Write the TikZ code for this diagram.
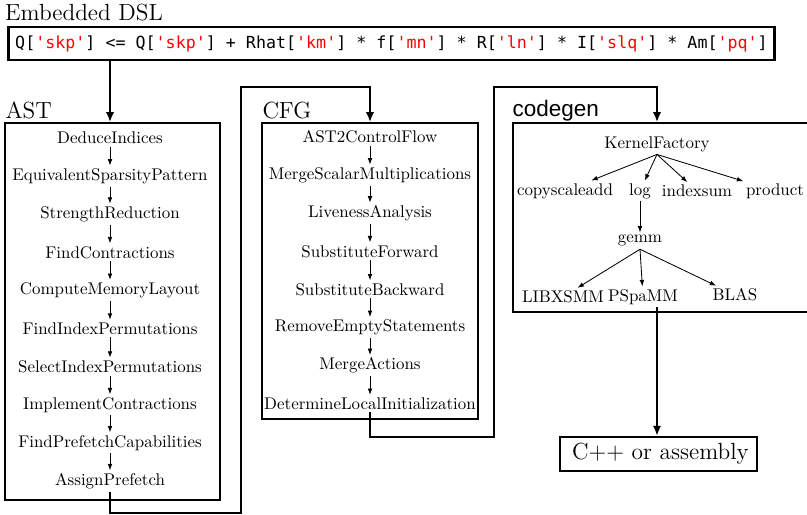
\documentclass[tikz,border=0pt]{standalone}
\usepackage{fontspec}
\setmonofont{DejaVu Sans Mono}
\newfontfamily\cgfont{Liberation Sans}
\usepackage{tikz}
\usetikzlibrary{positioning, fit, calc, arrows.meta}
\newcommand{\dslstr}[1]{\textcolor{red}{#1}}
\tikzstyle{dslbox} = [rectangle, draw=black, line width=1.6pt, minimum width=460pt, minimum height=19.8pt, inner sep=0pt, text centered, font=\ttfamily]
\tikzstyle{frame} = [rectangle, draw=black, line width=1pt, inner sep=0pt]
\tikzstyle{title} = [anchor=base west, inner sep=0pt, font=\fontsize{14}{17}\selectfont]
\tikzstyle{pass} = [rectangle, inner sep=1.5pt, text centered, font=\fontsize{10.15}{12}\selectfont]
\tikzstyle{outbox} = [rectangle, draw=black, line width=1.4pt, minimum width=118pt, minimum height=20.4pt, text centered, font=\fontsize{14}{17}\selectfont]
\tikzstyle{arrow} = [-{Latex[length=3.8pt, width=2.8pt]}, line width=0.5pt]
\tikzstyle{flow} = [-{Latex[length=6pt, width=5pt]}, line width=1.2pt]

\begin{document}
\begin{tikzpicture}[x=0.6pt, y=-0.6pt, node distance=22.86pt]
  \useasboundingbox (0,0) rectangle (807,515);

  % DSL
  \node (dsl) [dslbox] at (391.5,43.5) {Q[\dslstr{'skp'}] <= Q[\dslstr{'skp'}] + Rhat[\dslstr{'km'}] * f[\dslstr{'mn'}] * R[\dslstr{'ln'}] * I[\dslstr{'slq'}] * Am[\dslstr{'pq'}]};
  \node (dsltitle) [title, xshift=-1.2pt, yshift=3.2pt] at (dsl.north west) {Embedded DSL};

  % AST
  \node (ast1) [pass] at (110,138) {DeduceIndices};
  \node (ast2) [pass, below of=ast1] {EquivalentSparsityPattern};
  \node (ast3) [pass, below of=ast2] {StrengthReduction};
  \node (ast4) [pass, below of=ast3] {FindContractions};
  \node (ast5) [pass, below of=ast4] {ComputeMemoryLayout};
  \node (ast6) [pass, below of=ast5] {FindIndexPermutations};
  \node (ast7) [pass, below of=ast6] {SelectIndexPermutations};
  \node (ast8) [pass, below of=ast7] {ImplementContractions};
  \node (ast9) [pass, below of=ast8] {FindPrefetchCapabilities};
  \node (ast10) [pass, below of=ast9] {AssignPrefetch};
  \node (astbox) [frame, fit={(5,123) (220,500)}] {};
  \node (asttitle) [title, xshift=0.6pt, yshift=2.4pt] at (astbox.north west) {AST};

  % CFG
  \node (cfg1) [pass] at (370,137) {AST2ControlFlow};
  \node (cfg2) [pass, below of=cfg1] {MergeScalarMultiplications};
  \node (cfg3) [pass, below of=cfg2] {LivenessAnalysis};
  \node (cfg4) [pass, below of=cfg3] {SubstituteForward};
  \node (cfg5) [pass, below of=cfg4] {SubstituteBackward};
  \node (cfg6) [pass, below of=cfg5] {RemoveEmptyStatements};
  \node (cfg7) [pass, below of=cfg6] {MergeActions};
  \node (cfg8) [pass, below of=cfg7] {DetermineLocalInitialization};
  \node (cfgbox) [frame, fit={(262,123) (478,419)}] {};
  \node (cfgtitle) [title, xshift=0.6pt, yshift=2.4pt] at (cfgbox.north west) {CFG};

  % codegen
  \node (kf) [pass] at (657,144) {KernelFactory};
  \node (csa) [pass, below of=kf, xshift=-55.2pt, yshift=-5.3pt] {copyscaleadd};
  \node (log) [pass, below of=kf, xshift=-10.2pt, yshift=-5.3pt] {log};
  \node (isum) [pass, below of=kf, xshift=24pt, yshift=-5.3pt] {indexsum};
  \node (prod) [pass, below of=kf, xshift=70.8pt, yshift=-5.3pt] {product};
  \node (gemm) [pass, below of=log, yshift=-7.1pt] {gemm};
  \node (libx) [pass, below of=gemm, xshift=-46.2pt, yshift=-10.7pt] {LIBXSMM};
  \node (pspamm) [pass, below of=gemm, xshift=1.8pt, yshift=-10.7pt] {PSpaMM};
  \node (blas) [pass, below of=gemm, xshift=57pt, yshift=-9.5pt] {BLAS};
  \node (cgbox) [frame, fit={(513,123) (812,312)}] {};
  \node (cgtitle) [title, font=\cgfont\fontsize{13.5}{16}\selectfont, yshift=3.6pt] at (cgbox.north west) {codegen};

  % output
  \node (out) [outbox] at (658.5,454) {\,C++ or assembly};

  % passes
  \draw [arrow](ast1) -- (ast2);
  \draw [arrow](ast2) -- (ast3);
  \draw [arrow](ast3) -- (ast4);
  \draw [arrow](ast4) -- (ast5);
  \draw [arrow](ast5) -- (ast6);
  \draw [arrow](ast6) -- (ast7);
  \draw [arrow](ast7) -- (ast8);
  \draw [arrow](ast8) -- (ast9);
  \draw [arrow](ast9) -- (ast10);

  \draw [arrow](cfg1) -- (cfg2);
  \draw [arrow](cfg2) -- (cfg3);
  \draw [arrow](cfg3) -- (cfg4);
  \draw [arrow](cfg4) -- (cfg5);
  \draw [arrow](cfg5) -- (cfg6);
  \draw [arrow](cfg6) -- (cfg7);
  \draw [arrow](cfg7) -- (cfg8);

  \draw [arrow](kf.south) -- (csa);
  \draw [arrow](kf.south) -- (log);
  \draw [arrow](kf.south) -- (isum);
  \draw [arrow](kf.south) -- (prod);
  \draw [arrow](log) -- (gemm);
  \draw [arrow](gemm.south) -- (libx);
  \draw [arrow](gemm.south) -- (pspamm);
  \draw [arrow](gemm.south) -- (blas);

  % stages
  \coordinate (bendA) at (241,513);
  \coordinate (bendB) at (241,87);
  \coordinate (bendC) at (494,437);
  \coordinate (bendD) at (494,87);
  \draw [flow](dsl.south -| ast1) -- (astbox.north -| ast1);
  \draw [flow](ast10.south) |- (bendA) -- (bendB) -| (cfgbox.north -| cfg1);
  \draw [flow](cfg8.south) |- (bendC) -- (bendD) -| (cgbox.north -| kf);
  \draw [flow](pspamm.south -| kf) -- (out.north -| kf);
\end{tikzpicture}
\end{document}
